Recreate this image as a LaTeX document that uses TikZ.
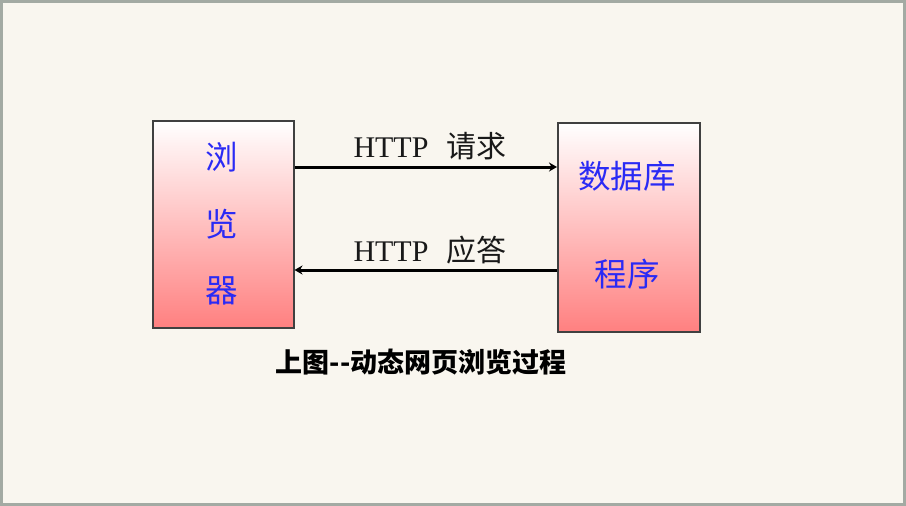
\documentclass[tikz,border=0pt]{standalone}
\usepackage{fontspec}
\setmainfont{Liberation Serif}
\newfontfamily\cjk{Noto Sans CJK SC}
\usetikzlibrary{arrows.meta}
\definecolor{bg}{HTML}{F9F6EF}
\definecolor{frame}{HTML}{A3AAA3}
\definecolor{boxred}{HTML}{FF8080}
\definecolor{txtblue}{HTML}{2A2AF5}
\tikzset{
  box/.style={draw=black!75, line width=1.5pt, top color=white, bottom color=boxred, anchor=north west, inner sep=0pt},
  boxtext/.style={text=txtblue, font=\cjk\fontsize{32.5}{38}\selectfont, inner sep=0pt},
  lbl/.style={font=\fontsize{30}{36}\selectfont, inner sep=0pt, text=black!90},
  arr/.style={line width=3pt, -{Stealth[length=8pt,width=9pt]}},
}
\begin{document}
\begin{tikzpicture}[x=1pt,y=-1pt]
\fill[frame] (0,0) rectangle (906,506);
\fill[bg] (3,3) rectangle (903,503);
\useasboundingbox (0,0) rectangle (906,506);
\node[box, minimum width=141pt, minimum height=207pt] (L) at (152,120) {};
\node[box, minimum width=142pt, minimum height=209pt] (R) at (557,122) {};
\node[boxtext] (l1) at (222,157) {浏};
\node[boxtext] (l2) at (222,224) {览};
\node[boxtext] (l3) at (222,291) {器};
\node[boxtext] (r1) at (627,176) {数据库};
\node[boxtext] (r2) at (627,274) {程序};
\coordinate (y1) at (0,167);
\coordinate (y2) at (0,270);
\draw[arr] (L.east |- y1) -- (R.west |- y1);
\draw[arr] (R.west |- y2) -- (L.east |- y2);
\node[lbl] (t1) at (430,146) {HTTP\hspace{0.6em}{\cjk 请求}};
\node[lbl] (t2) at (430,250) {HTTP\hspace{0.6em}{\cjk 应答}};
\node[font=\cjk\bfseries\fontsize{27}{32}\selectfont, inner sep=0pt] (cap) at (421,362) {上图{-}{-}动态网页浏览过程};
\end{tikzpicture}
\end{document}
